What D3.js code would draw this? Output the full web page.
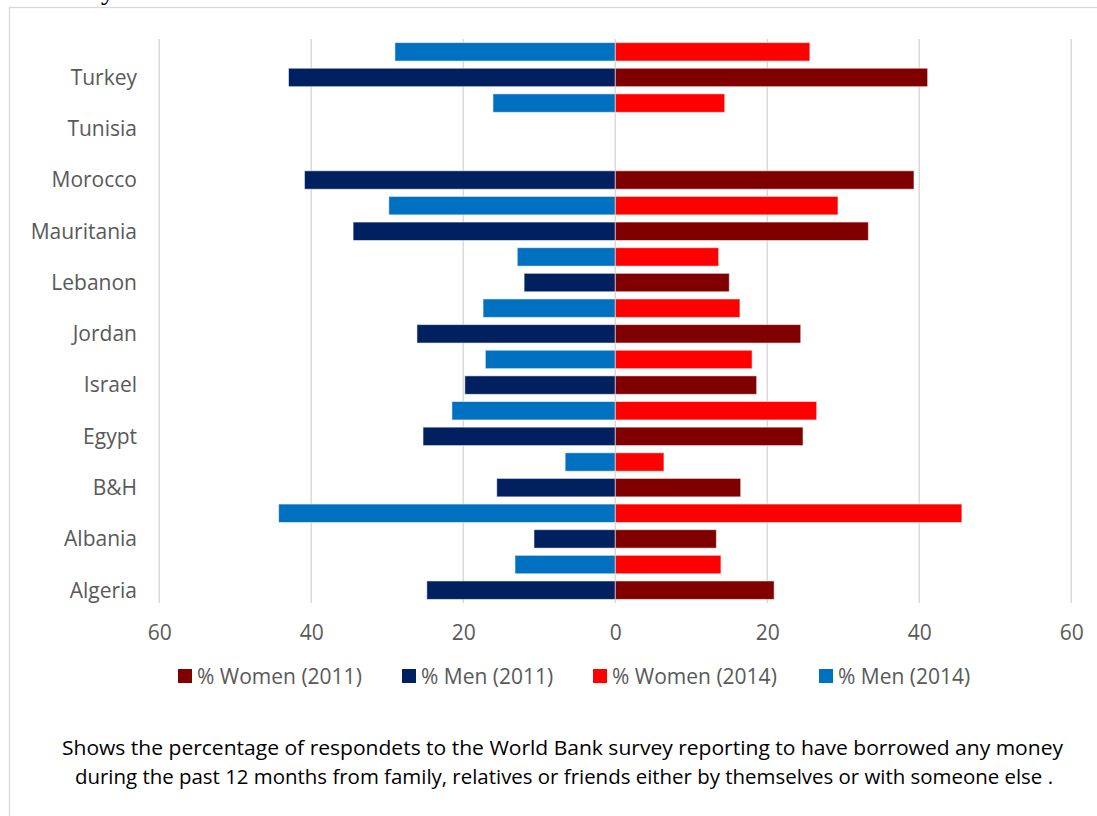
<!DOCTYPE html>
<html>
<head>
<meta charset="utf-8">
<script src="https://cdn.jsdelivr.net/npm/d3@7"></script>
<style>
  html, body { margin: 0; padding: 0; background: #fff; }
  svg { display: block; }
  text { font-family: "Open Sans", "DejaVu Sans", sans-serif; }
</style>
</head>
<body>
<svg id="chart" width="1097" height="816"></svg>
<script>
// Countries, listed top to bottom
const countries = ["Turkey", "Tunisia", "Morocco", "Mauritania", "Lebanon", "Jordan",
                   "Israel", "Egypt", "B&H", "Albania", "Algeria"];

// Share of respondents who borrowed from family, relatives or friends (%)
const women2011 = [41.1, null, 39.3, 33.3, 15.0, 24.4, 18.6, 24.7, 16.5, 13.3, 20.9];
const men2011   = [43.0, null, 40.9, 34.5, 12.0, 26.1, 19.8, 25.3, 15.6, 10.7, 24.8];
const women2014 = [25.6, 14.4, null, 29.3, 13.6, 16.4, 18.0, 26.5, 6.4, 45.6, 13.9];
const men2014   = [29.0, 16.1, null, 29.8, 12.9, 17.4, 17.1, 21.5, 6.6, 44.3, 13.2];

const xTicks = [-60, -40, -20, 0, 20, 40, 60];

const seriesNames = ["% Women (2011)", "% Men (2011)", "% Women (2014)", "% Men (2014)"];
const seriesColors = ["#800000", "#002060", "#FF0000", "#0070C0"];

const caption = [
  "Shows the percentage of respondets to the World Bank survey reporting to have borrowed any money",
  "during the past 12 months  from family, relatives or friends either by themselves or with someone else ."
];

const svg = d3.select("#chart");

// outer chart frame
svg.append("rect")
  .attr("x", 9.5).attr("y", 7.5)
  .attr("width", 1100).attr("height", 820)
  .attr("fill", "none").attr("stroke", "#d9d9d9").attr("stroke-width", 1.3);

// trailing descender of the heading above the frame
svg.append("text")
  .attr("x", 101).attr("y", -1)
  .style("font-family", "'Liberation Serif', serif")
  .style("font-size", "28px")
  .attr("fill", "#000")
  .text("y");

const x = d3.scaleLinear().domain([-60, 60]).range([159.3, 1071.3]);
const y = d3.scaleBand().domain(countries).range([39, 603]);
const yr = d3.scaleBand().domain(["2014", "2011"]).range([0, y.bandwidth()])
  .paddingInner(0.28).paddingOuter(0.14);

// vertical gridlines
svg.append("g")
  .selectAll("line")
  .data(xTicks)
  .join("line")
  .attr("x1", d => x(d)).attr("x2", d => x(d))
  .attr("y1", 39).attr("y2", 603)
  .attr("stroke", "#d9d9d9").attr("stroke-width", 1.5);

// bars
const rows = [];
countries.forEach((c, i) => {
  rows.push({ c, year: "2011", side: -1, v: men2011[i],   color: seriesColors[1] });
  rows.push({ c, year: "2011", side:  1, v: women2011[i], color: seriesColors[0] });
  rows.push({ c, year: "2014", side: -1, v: men2014[i],   color: seriesColors[3] });
  rows.push({ c, year: "2014", side:  1, v: women2014[i], color: seriesColors[2] });
});

svg.append("g")
  .selectAll("rect")
  .data(rows.filter(d => d.v != null))
  .join("rect")
  .attr("x", d => d.side < 0 ? x(-d.v) : x(0))
  .attr("width", d => Math.abs(x(d.v) - x(0)))
  .attr("y", d => y(d.c) + yr(d.year))
  .attr("height", yr.bandwidth())
  .attr("fill", d => d.color)
  .attr("stroke", "#ffffff").attr("stroke-opacity", 0.55).attr("stroke-width", 1);

// category labels, aligned with the 2011 bars
svg.append("g")
  .selectAll("text")
  .data(countries)
  .join("text")
  .attr("x", 137)
  .attr("y", d => y(d) + yr("2011") + yr.bandwidth() / 2)
  .attr("dy", "0.35em")
  .attr("text-anchor", "end")
  .attr("fill", "#595959")
  .style("font-size", "21px")
  .text(d => d);

// x axis tick labels
const xAxis = d3.axisBottom(x).tickValues(xTicks).tickSize(0).tickFormat(d => Math.abs(d));
const gx = svg.append("g").attr("transform", "translate(0,622)").call(xAxis);
gx.select(".domain").remove();
gx.selectAll("text")
  .attr("fill", "#595959")
  .style("font-size", "21px")
  .style("font-family", "'Open Sans', sans-serif");

// legend
const legendX = [178, 402, 593, 819];
const legend = svg.append("g");
seriesNames.forEach((name, i) => {
  legend.append("rect")
    .attr("x", legendX[i]).attr("y", 669)
    .attr("width", 14).attr("height", 14)
    .attr("fill", seriesColors[i]);
  legend.append("text")
    .attr("x", legendX[i] + 19).attr("y", 677)
    .attr("dy", "0.35em")
    .attr("fill", "#595959")
    .style("font-size", "21px")
    .text(name);
});

// caption
const capX = [[62, 1001], [75, 978]];
const capY = [748, 777];
caption.forEach((line, i) => {
  svg.append("text")
    .attr("x", capX[i][0]).attr("y", capY[i])
    .attr("dy", "0.35em")
    .attr("fill", "#000")
    .attr("textLength", capX[i][1])
    .attr("lengthAdjust", "spacingAndGlyphs")
    .style("font-size", "20px")
    .text(line);
});
</script>
</body>
</html>
